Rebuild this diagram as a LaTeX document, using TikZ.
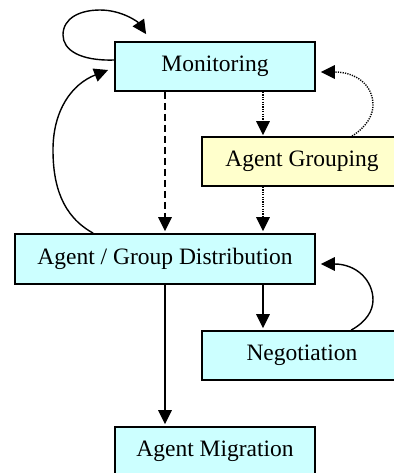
\documentclass[tikz,border=0pt]{standalone}
\usepackage{fontspec}
\setmainfont{Liberation Serif}
\usetikzlibrary{arrows.meta,calc}
\definecolor{boxcyan}{HTML}{CCFFFF}
\definecolor{boxyellow}{HTML}{FFFFCC}
\begin{document}
\begin{tikzpicture}[x=0.5pt,y=-0.5pt,
  box/.style={draw=black, line width=0.9pt, fill=boxcyan, rectangle,
    minimum width=100pt, minimum height=24.5pt, inner sep=0pt,
    font=\fontsize{11.75}{14}\selectfont},
  arr/.style={line width=0.7pt, -{Triangle[length=7pt,width=6.8pt]}},
  dotline/.style={dash pattern=on 0.6pt off 0.6pt},
  dashline/.style={dash pattern=on 3.5pt off 2pt}]
\clip (0,0) rectangle (394,473);

% process boxes
\node[box] (mon) at (215,66.5) {Monitoring};
\node[box, fill=boxyellow] (grp) at (302,161.5) {Agent Grouping};
\node[box, minimum width=150pt, minimum height=25pt] (dist) at (165,259) {Agent / Group Distribution};
\node[box] (neg) at (302,355.5) {Negotiation};
\node[box] (mig) at (215,451.5) {Agent Migration};

% free ends of the curved connectors
\coordinate (monloop) at ($(mon.north west)+(32,-7)$);
\coordinate (monleft) at ($(mon.west)+(-6,3.5)$);
\coordinate (monright) at ($(mon.east)+(5,5.5)$);
\coordinate (distright) at ($(dist.east)+(5,5)$);

% self loop on Monitoring
\draw[arr] ($(mon.west)+(0,-6.5)$) .. controls (80,61) and (63,50) .. (63,35)
  .. controls (63,18) and (80,10) .. (100,10)
  .. controls (122,10) and (138,22) .. (monloop);

% Distribution back to Monitoring
\draw[arr] ($(dist.north west)+(79,0)$) .. controls (62,216) and (53,185) .. (53,150)
  .. controls (53,110) and (72,84) .. (monleft);

% Grouping back to Monitoring (dotted)
\draw[arr, dotline] ($(grp.north west)+(151,0)$) .. controls (366,127) and (373,116) .. (373,105)
  .. controls (373,85) and (356,72) .. (monright);

% Negotiation back to Distribution
\draw[arr] ($(neg.north west)+(150,0)$) .. controls (366,322) and (373,311) .. (373,300)
  .. controls (373,280) and (356,264) .. (distright);

% straight connectors
\draw[arr, dashline, shorten >=1pt] ($(mon.south)+(-50,0)$) -- (dist.north);
\draw[arr, dotline, shorten >=0.5pt] ($(mon.south)+(48,0)$) -- ($(grp.north)+(-39,0)$);
\draw[arr, dotline, shorten >=1pt] ($(grp.south)+(-39,0)$) -- ($(dist.north)+(98,0)$);
\draw[arr, shorten >=1pt] ($(dist.south)+(98,0)$) -- ($(neg.north)+(-39,0)$);
\draw[arr, shorten >=1pt] (dist.south) -- ($(mig.north)+(-50,0)$);
\end{tikzpicture}
\end{document}
